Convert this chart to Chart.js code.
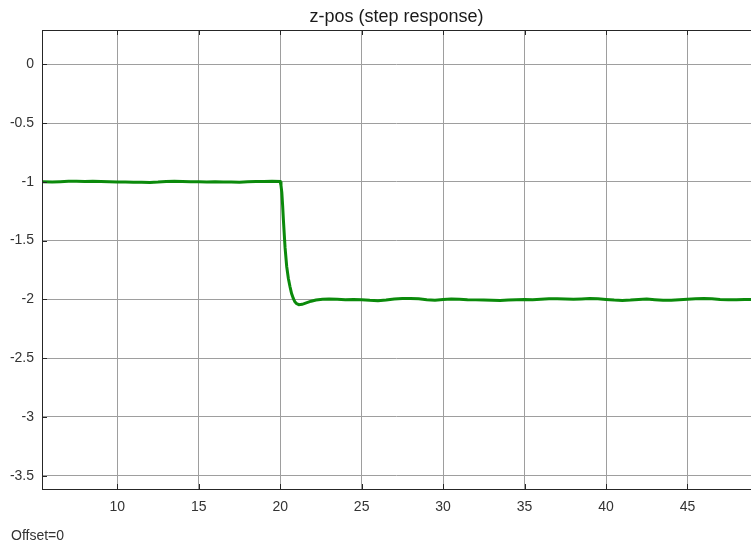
<!DOCTYPE html>
<html>
<head>
<meta charset="utf-8">
<title>z-pos scope</title>
<script src="https://cdn.jsdelivr.net/npm/chart.js@4.4.1/dist/chart.umd.min.js"></script>
<style>
  html, body { margin: 0; padding: 0; background: #fff; }
  #scope { display: block; }
</style>
</head>
<body>
<canvas id="scope" width="751" height="544"></canvas>
<script>
// sampled scope trace: simulation time [s] and z position
const TIME = [
  5.4, 6, 6.5, 7, 7.5, 8, 8.5, 9, 9.5, 10, 10.5, 11, 11.5, 12, 12.5, 13, 13.5, 14, 14.5, 15,
  15.5, 16, 16.5, 17, 17.5, 18, 18.5, 19, 19.5, 20,
  20.05, 20.1, 20.15, 20.2, 20.3, 20.4, 20.5, 20.6, 20.7, 20.8, 20.9, 21, 21.15, 21.35, 21.6, 21.9,
  22.2, 22.6, 23, 23.5, 24, 24.5, 25, 25.5, 26, 26.5, 27, 27.5, 28, 28.5, 29, 29.5, 30, 30.5,
  31, 31.5, 32, 32.5, 33, 33.5, 34, 34.5, 35, 35.5, 36, 36.5, 37, 37.5, 38, 38.5, 39, 39.5,
  40, 40.5, 41, 41.5, 42, 42.5, 43, 43.5, 44, 44.5, 45, 45.5, 46, 46.5, 47, 47.5, 48, 48.5, 49
];
const Z_POS = [
  -1.0, -1.002, -0.998, -0.995, -0.994, -0.996, -0.995, -0.997, -1.0, -1.002, -1.001, -1.003, -1.004, -1.006, -1.002, -0.996, -0.995, -0.997, -0.999, -1.0,
  -1.001, -1.0, -1.002, -1.001, -1.003, -1.0, -0.997, -0.996, -0.995, -0.996,
  -1.03, -1.09, -1.2, -1.33, -1.56, -1.72, -1.82, -1.89, -1.95, -1.99, -2.02, -2.035, -2.045, -2.042, -2.03, -2.015,
  -2.005, -1.998, -1.996, -1.998, -2.002, -2.0, -2.002, -2.008, -2.012, -2.005, -1.996, -1.993, -1.992, -1.995, -2.003, -2.008, -2.0, -1.996,
  -1.998, -2.002, -2.004, -2.006, -2.008, -2.01, -2.006, -2.002, -2.0, -2.002, -1.998, -1.995, -1.994, -1.996, -1.998, -1.996, -1.993, -1.995,
  -2.0, -2.006, -2.009, -2.006, -2.0, -1.997, -2.002, -2.008, -2.007, -2.002, -1.998, -1.994, -1.992, -1.995, -2.0, -2.003, -2.002, -2.0, -2.0
];
const X_TICKS = [10, 15, 20, 25, 30, 35, 40, 45];
const Y_TICKS = [0, -0.5, -1, -1.5, -2, -2.5, -3, -3.5];
const X_RANGE = [5.38, 48.9];
const Y_RANGE = [-3.613, 0.292];

const FONT = 'Liberation Sans, Arial, Helvetica, sans-serif';
const INK = '#333333';
const GRID = '#9e9e9e';

// axes box, inward tick marks and the offset note
const scopeFrame = {
  id: 'scopeFrame',
  afterDraw(chart) {
    const { ctx, chartArea: a, scales } = chart;
    ctx.save();
    ctx.strokeStyle = '#262626';
    ctx.lineWidth = 1;
    ctx.beginPath();
    X_TICKS.forEach((v) => {
      const px = Math.round(scales.x.getPixelForValue(v)) + 0.5;
      ctx.moveTo(px, a.top); ctx.lineTo(px, a.top + 5);
      ctx.moveTo(px, a.bottom); ctx.lineTo(px, a.bottom - 5);
    });
    Y_TICKS.forEach((v) => {
      const py = Math.round(scales.y.getPixelForValue(v)) + 0.5;
      ctx.moveTo(a.left, py); ctx.lineTo(a.left + 5, py);
    });
    ctx.stroke();
    ctx.strokeRect(Math.round(a.left) + 0.5, Math.round(a.top) + 0.5, a.right - a.left + 2, Math.round(a.bottom - a.top));
    ctx.fillStyle = INK;
    ctx.font = '14px ' + FONT;
    ctx.textBaseline = 'alphabetic';
    ctx.textAlign = 'left';
    ctx.fillText('Offset=0', 11, 540);
    ctx.restore();
  }
};

new Chart(document.getElementById('scope'), {
  type: 'line',
  data: {
    datasets: [{
      data: TIME.map((t, i) => ({ x: t, y: Z_POS[i] })),
      borderColor: '#0b8a0b',
      borderWidth: 3,
      pointRadius: 0,
      tension: 0,
      fill: false
    }]
  },
  options: {
    responsive: false,
    animation: false,
    devicePixelRatio: 1,
    layout: { padding: 0 },
    plugins: {
      legend: { display: false },
      tooltip: { enabled: false },
      title: {
        display: true,
        text: 'z-pos (step response)',
        fullSize: false,
        color: '#1a1a1a',
        font: { family: FONT, size: 18, weight: 'normal', lineHeight: 1.2 },
        padding: { top: 5.8, bottom: 2.6 }
      }
    },
    scales: {
      x: {
        type: 'linear',
        min: X_RANGE[0],
        max: X_RANGE[1],
        border: { display: false },
        grid: { color: GRID, lineWidth: 1, drawTicks: false },
        ticks: {
          color: INK,
          font: { family: FONT, size: 14 },
          padding: 10,
          maxRotation: 0,
          includeBounds: false,
          callback: (v) => String(v)
        },
        afterBuildTicks: (scale) => { scale.ticks = X_TICKS.map((v) => ({ value: v })); },
        afterFit: (scale) => { scale.height = 55; }
      },
      y: {
        type: 'linear',
        min: Y_RANGE[0],
        max: Y_RANGE[1],
        border: { display: false },
        grid: { color: GRID, lineWidth: 1, drawTicks: false },
        ticks: {
          color: INK,
          font: { family: FONT, size: 14 },
          padding: 8,
          includeBounds: false,
          callback: (v) => String(v)
        },
        afterBuildTicks: (scale) => { scale.ticks = Y_TICKS.map((v) => ({ value: v })); },
        afterFit: (scale) => { scale.width = 42; }
      }
    }
  },
  plugins: [scopeFrame]
});
</script>
</body>
</html>
